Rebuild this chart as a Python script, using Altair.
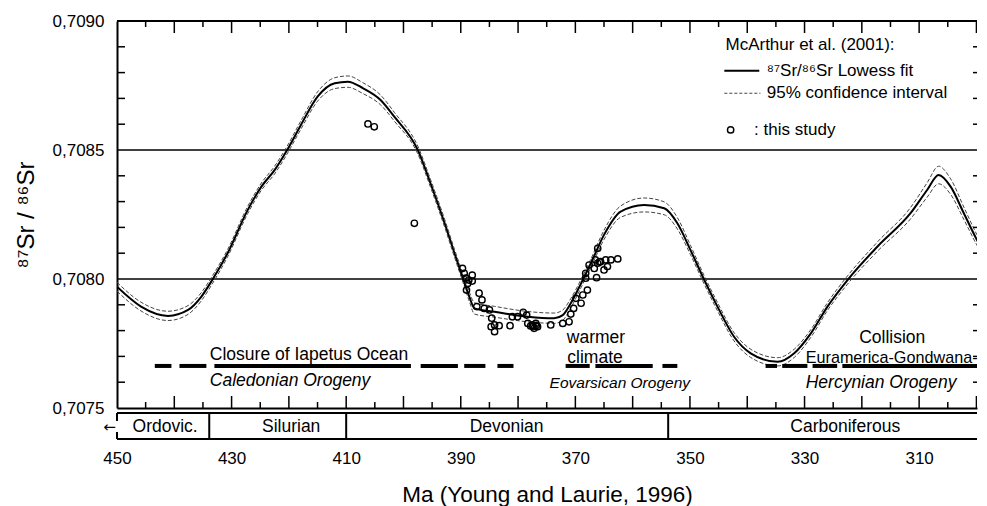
import altair as alt
import pandas as pd

# ---------------- data ----------------
# Lowess fit (McArthur et al. 2001), Ma -> 87Sr/86Sr
fit_ma = [450.0, 445.8, 441.1, 437.6, 435.3, 433.3, 430.7, 427.2, 424.8, 422.5,
          420.3, 417.9, 415.0, 412.0, 409.7, 407.1, 404.0, 401.6, 397.5, 395.3,
          392.6, 391.1, 389.7, 388.5, 387.6, 384.1, 378.3, 373.7, 372.2, 370.8,
          369.0, 367.3, 365.0, 362.1, 358.0, 354.5, 352.2, 349.9, 347.5, 345.2,
          342.3, 339.4, 334.7, 331.8, 328.9, 326.0, 322.5, 317.3, 311.5, 308.6,
          306.6, 304.5, 302.2, 299.9, 298.4]
fit_val = [0.707970, 0.707893, 0.707857, 0.707880, 0.707931, 0.707999, 0.708100, 0.708267, 0.708358, 0.708422,
           0.708500, 0.708597, 0.708707, 0.708759, 0.708765, 0.708740, 0.708694, 0.708629, 0.708500, 0.708372,
           0.708202, 0.708100, 0.708009, 0.707931, 0.707886, 0.707873, 0.707854, 0.707848, 0.707860, 0.707906,
           0.707983, 0.708061, 0.708171, 0.708261, 0.708287, 0.708274, 0.708216, 0.708112, 0.707996, 0.707893,
           0.707776, 0.707712, 0.707679, 0.707712, 0.707789, 0.707893, 0.707996, 0.708125, 0.708255, 0.708345,
           0.708403, 0.708358, 0.708255, 0.708151, 0.708093]
# half width of the 95% confidence band (units of 1e-6)
ci_half = [17, 17, 18, 17, 16, 15, 14, 14, 14, 15,
           15, 16, 18, 21, 22, 21, 19, 17, 15, 15,
           15, 15, 16, 18, 22, 21, 20, 20, 20, 18,
           16, 16, 18, 22, 27, 25, 22, 18, 16, 16,
           16, 16, 16, 16, 15, 15, 16, 18, 22, 28,
           34, 30, 24, 20, 18]

# samples of this study
pts_ma = [406.2, 405.1, 398.1, 389.7, 389.4, 389.1, 388.6, 388.0, 388.8, 389.0,
          386.8, 386.3, 387.2, 385.9, 385.0, 384.6, 384.1, 384.7, 384.1, 383.3,
          381.4, 381.0, 380.1, 379.1, 378.5, 378.3, 377.5, 376.9, 376.6, 377.2,
          374.3, 372.2, 371.1, 370.8, 370.3, 369.9, 369.0, 368.7, 367.9, 368.2,
          366.3, 368.2, 367.6, 366.7, 366.1, 365.6, 364.7, 363.8, 362.6, 364.4,
          365.0, 366.1, 377.8, 366.5, 388.0, 377.4, 376.8, 365.8]
pts_val = [0.708601, 0.708590, 0.708216, 0.708041, 0.708022, 0.708003, 0.707996, 0.707992, 0.707983, 0.707957,
           0.707945, 0.707919, 0.707893, 0.707886, 0.707880, 0.707848, 0.707822, 0.707815, 0.707796, 0.707819,
           0.707819, 0.707854, 0.707854, 0.707871, 0.707860, 0.707828, 0.707822, 0.707828, 0.707815, 0.707809,
           0.707822, 0.707828, 0.707834, 0.707864, 0.707886, 0.707925, 0.707906, 0.707938, 0.707957, 0.708003,
           0.708005, 0.708022, 0.708054, 0.708041, 0.708061, 0.708067, 0.708074, 0.708074, 0.708078, 0.708048,
           0.708035, 0.708119, 0.707818, 0.708074, 0.708015, 0.707816, 0.707820, 0.708066]

# geological periods (Young and Laurie, 1996)
period_names = ["Ordovic.", "Silurian", "Devonian", "Carboniferous"]
period_label_ma = [441.6, 419.6, 382.0, 322.9]
period_bounds = [433.9, 410.0, 353.8]

# orogeny dashed bars (start Ma, end Ma)
orog_start = [443.4, 439.1, 433.0, 397.0, 389.4, 383.6,
              371.7, 366.5, 354.8,
              336.8, 333.9, 328.6, 323.4]
orog_end = [440.5, 434.4, 398.7, 390.5, 385.7, 380.8,
            367.5, 356.5, 352.2,
            334.8, 329.5, 324.3, 298.0]

# axis ticks and labels
x_label_values = [450, 430, 410, 390, 370, 350, 330, 310]
y_label_values = [0.7075, 0.7080, 0.7085, 0.7090]
x_major_ticks = [440, 430, 420, 410, 400, 390, 380, 370, 360, 350, 340, 330, 320, 310, 300]
x_minor_ticks = [445, 435, 425, 415, 405, 395, 385, 375, 365, 355, 345, 335, 325, 315, 305]
y_minor_ticks = [0.7076, 0.7077, 0.7078, 0.7079, 0.7081, 0.7082, 0.7083, 0.7084,
                 0.7086, 0.7087, 0.7088, 0.7089]
grid_values = [0.7080, 0.7085]

# annotation texts
ann_text = ["Closure of Iapetus Ocean", "warmer", "climate"]
ann_ma = [433.8, 371.5, 371.4]
ann_val = [0.707705, 0.707771, 0.707694]
ital_text = ["Caledonian Orogeny", "Hercynian Orogeny"]
ital_ma = [433.8, 329.8]
ital_val = [0.707605, 0.707598]

# ---------------- layout constants ----------------
X0, X1 = 450.0, 299.9
Y0, Y1 = 0.7075, 0.7090
OROG_Y = 0.707663
BAR_TOP, BAR_BOT, BAR_MID = 0.707481, 0.707380, 0.707428
FONT = "Liberation Sans"

xs = alt.Scale(domain=[X0, X1], nice=False, zero=False, padding=0)
ys = alt.Scale(domain=[Y0, Y1], nice=False, zero=False, padding=0)


def dx(v):
    return alt.datum(v, scale=xs)


def dy(v):
    return alt.datum(v, scale=ys)


def fx(f):
    return alt.X(f, scale=xs)


def fy(f):
    return alt.Y(f, scale=ys)


fit_df = pd.DataFrame({
    "Ma": fit_ma, "val": fit_val,
    "up": [v + c * 1e-6 for v, c in zip(fit_val, ci_half)],
    "lo": [v - c * 1e-6 for v, c in zip(fit_val, ci_half)],
    "i": list(range(len(fit_ma))),
})
pts_df = pd.DataFrame({"Ma": pts_ma, "val": pts_val})

x_axis = alt.Axis(values=x_label_values, format="d", ticks=False, tickSize=0, grid=False,
                  labelFontSize=17, labelPadding=42, labelColor="black", labelFlush=False,
                  labelOverlap=False, domain=True, domainColor="black", domainWidth=2,
                  title="Ma (Young and Laurie, 1996)", titleFontSize=22.5, titleFontWeight="normal",
                  titleColor="black", titlePadding=17)
y_axis = alt.Axis(values=y_label_values, labelExpr="replace(format(datum.value, '.4f'), '.', ',')",
                  ticks=False, tickSize=0, grid=False, labelFontSize=17, labelPadding=13,
                  labelColor="black", labelFlush=False, labelOverlap=False,
                  domain=True, domainColor="black", domainWidth=2,
                  title="⁸⁷Sr / ⁸⁶Sr", titleFontSize=24, titleFontWeight="normal",
                  titleColor="black", titlePadding=14)

base_fit = alt.Chart(fit_df)

fit_line = base_fit.mark_line(interpolate="monotone", color="black", strokeWidth=2, clip=True).encode(
    x=alt.X("Ma:Q", scale=xs, axis=x_axis),
    y=alt.Y("val:Q", scale=ys, axis=y_axis),
    order=alt.Order("i:Q"),
)
ci_up = base_fit.mark_line(interpolate="monotone", color="#444444", strokeWidth=1,
                           strokeDash=[4, 2], clip=True).encode(
    x=fx("Ma:Q"), y=fy("up:Q"), order=alt.Order("i:Q"))
ci_lo = base_fit.mark_line(interpolate="monotone", color="#444444", strokeWidth=1,
                           strokeDash=[4, 2], clip=True).encode(
    x=fx("Ma:Q"), y=fy("lo:Q"), order=alt.Order("i:Q"))

points = alt.Chart(pts_df).mark_point(shape="circle", filled=False, size=40, strokeWidth=1.4,
                                      color="black", opacity=1).encode(
    x=fx("Ma:Q"), y=fy("val:Q"))

grid = alt.Chart(pd.DataFrame({"g": grid_values})).mark_rule(color="black", strokeWidth=1.5).encode(
    y=fy("g:Q"), x=dx(X0), x2=alt.datum(X1))

one = pd.DataFrame({"a": [0]})
top_border = alt.Chart(one).mark_rule(color="black", strokeWidth=2).encode(
    y=dy(Y1), x=dx(X0), x2=alt.datum(X1))

orog = alt.Chart(pd.DataFrame({"s": orog_start, "e": orog_end})).mark_rule(
    color="black", strokeWidth=4, strokeCap="butt", clip=True).encode(
    x=fx("s:Q"), x2="e:Q", y=dy(OROG_Y))

# inward ticks
tick_major_df = pd.DataFrame({"t": x_major_ticks})
tick_minor_df = pd.DataFrame({"t": x_minor_ticks})
ytick_df = pd.DataFrame({"t": y_minor_ticks})
ticks = []
for yv in (Y0, Y1):
    ticks.append(alt.Chart(tick_major_df).mark_tick(orient="vertical", size=24, thickness=1.5,
                                                    color="black", clip=True, opacity=1).encode(
        x=fx("t:Q"), y=dy(yv)))
    ticks.append(alt.Chart(tick_minor_df).mark_tick(orient="vertical", size=12, thickness=1.5,
                                                    color="black", clip=True, opacity=1).encode(
        x=fx("t:Q"), y=dy(yv)))
ticks.append(alt.Chart(ytick_df).mark_tick(orient="horizontal", size=16, thickness=1.5,
                                           color="black", clip=True, opacity=1).encode(
    y=fy("t:Q"), x=dx(X0)))
ticks.append(alt.Chart(ytick_df).mark_tick(orient="horizontal", size=8, thickness=1.5,
                                           color="black", clip=True, opacity=1).encode(
    y=fy("t:Q"), x=dx(X1)))

# period bar under the plot
bar_h = alt.Chart(pd.DataFrame({"y": [BAR_TOP, BAR_BOT]})).mark_rule(color="black", strokeWidth=2).encode(
    y=fy("y:Q"), x=dx(X0), x2=alt.datum(X1))
bar_v = alt.Chart(pd.DataFrame({"b": period_bounds})).mark_rule(color="black", strokeWidth=2).encode(
    x=fx("b:Q"), y=dy(BAR_TOP), y2=alt.datum(BAR_BOT))
bar_left = alt.Chart(pd.DataFrame({"y1": [BAR_TOP, 0.707407], "y2": [0.707450, BAR_BOT]})).mark_rule(
    color="black", strokeWidth=2).encode(
    x=dx(X0), y=fy("y1:Q"), y2="y2:Q")
bar_text = alt.Chart(pd.DataFrame({"Ma": period_label_ma, "n": period_names})).mark_text(
    fontSize=17.5, color="black", baseline="middle", align="center").encode(
    x=fx("Ma:Q"), y=dy(BAR_MID), text="n:N")
arrow = alt.Chart(one).mark_text(text="←", fontSize=15, color="black", align="right",
                                 baseline="middle", font="DejaVu Sans").encode(
    x=dx(450.2), y=dy(BAR_MID))

# annotations
ann = alt.Chart(pd.DataFrame({"Ma": ann_ma, "v": ann_val, "t": ann_text})).mark_text(
    fontSize=17.5, color="black", align="left", baseline="middle").encode(
    x=fx("Ma:Q"), y=fy("v:Q"), text="t:N")
eura = alt.Chart(one).mark_text(text="Euramerica-Gondwana-", fontSize=16.2, color="black",
                                align="left", baseline="middle").encode(
    x=dx(329.8), y=dy(0.707693))
ital = alt.Chart(pd.DataFrame({"Ma": ital_ma, "v": ital_val, "t": ital_text})).mark_text(
    fontSize=17.5, fontStyle="italic", color="black", align="left", baseline="middle").encode(
    x=fx("Ma:Q"), y=fy("v:Q"), text="t:N")
eov = alt.Chart(one).mark_text(text="Eovarsican Orogeny", fontSize=15.5, fontStyle="italic",
                               color="black", align="left", baseline="middle").encode(
    x=dx(374.5), y=dy(0.707597))
coll = alt.Chart(one).mark_text(text="Collision", fontSize=17.5, color="black", align="center",
                                baseline="middle").encode(
    x=dx(314.7), y=dy(0.707770))

# legend
leg_text = alt.Chart(pd.DataFrame({
    "Ma": [343.8, 336.6, 336.6, 338.8],
    "v": [0.708907, 0.708807, 0.708721, 0.708578],
    "t": ["McArthur et al. (2001):", "⁸⁷Sr/⁸⁶Sr Lowess fit", "95% confidence interval", ": this study"],
})).mark_text(fontSize=17, color="black", align="left", baseline="middle").encode(
    x=fx("Ma:Q"), y=fy("v:Q"), text="t:N")
leg_solid = alt.Chart(one).mark_rule(color="black", strokeWidth=2).encode(
    x=dx(344.0), x2=alt.datum(337.9), y=dy(0.708807))
leg_dash = alt.Chart(one).mark_rule(color="#444444", strokeWidth=1, strokeDash=[3, 2]).encode(
    x=dx(344.0), x2=alt.datum(337.7), y=dy(0.708720))
leg_pt = alt.Chart(one).mark_point(shape="circle", filled=False, size=40, strokeWidth=1.4,
                                   color="black", opacity=1).encode(
    x=dx(342.9), y=dy(0.708578))

chart = alt.layer(
    fit_line, grid, top_border, ci_up, ci_lo, points, orog, *ticks,
    bar_h, bar_v, bar_left, bar_text, arrow, ann, eura, ital, eov, coll,
    leg_text, leg_solid, leg_dash, leg_pt,
).properties(
    width=860, height=387,
    padding={"left": 6, "top": 4, "right": 0, "bottom": 0},
).configure(font=FONT).configure_view(stroke=None)

chart.save("out.html", embed_options={"renderer": "svg", "actions": False})
